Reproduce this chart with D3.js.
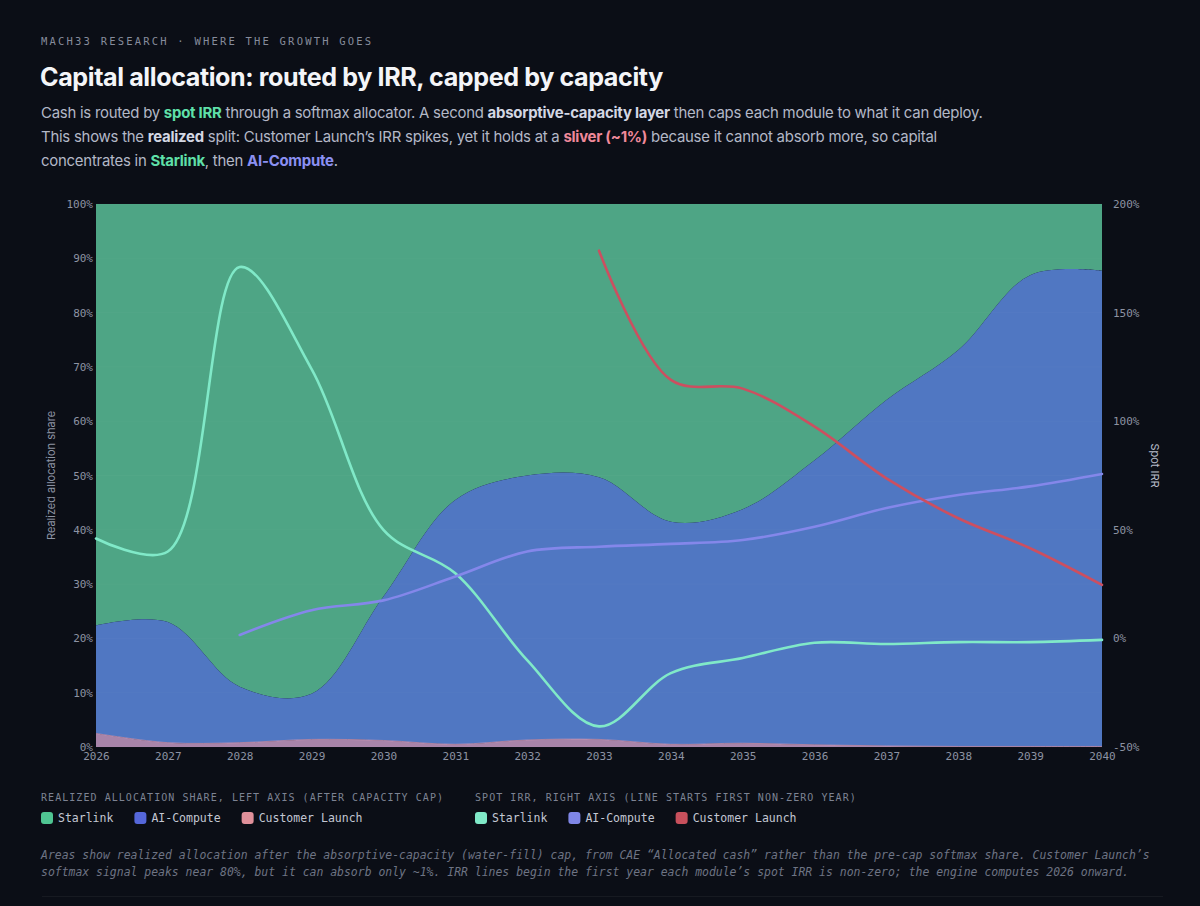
<!DOCTYPE html>
<html>
<head>
<meta charset="utf-8">
<script src="https://cdn.jsdelivr.net/npm/d3@7"></script>
<style>
  html, body { margin: 0; padding: 0; background: #0b0e16; }
  svg { display: block; }
</style>
</head>
<body>
<svg width="1200" height="906"></svg>
<script>
// --- data ---
const years = [2026, 2027, 2028, 2029, 2030, 2031, 2032, 2033, 2034, 2035, 2036, 2037, 2038, 2039, 2040]

// realized allocation share (%), stacked
const launchShare   = [2.5, 0.8, 0.8, 1.4, 1.2, 0.5, 1.3, 1.4, 0.5, 0.7, 0.4, 0.2, 0.1, 0.1, 0.1]
const computeShare  = [19.9, 22.2, 10.3, 8.4, 26.5, 45.0, 48.7, 48.3, 41.0, 43.1, 52.4, 63.7, 73.0, 86.8, 87.6]
const starlinkShare = [77.6, 77.0, 88.9, 90.2, 72.3, 54.5, 50.0, 50.3, 58.5, 56.2, 47.2, 36.1, 26.9, 13.1, 12.3]

// spot IRR (%), null = not started yet
const starlinkIrr = [46, 40, 171, 124, 50, 30, -10, -40.5, -16, -9, -2, -2.6, -1.7, -1.7, -0.7]
const computeIrr  = [null, null, 1.6, 13, 17.5, 28.5, 40, 42.2, 43.5, 45.3, 51.4, 60, 66, 70, 75.7]
const launchIrr   = [null, null, null, null, null, null, null, 178.5, 119, 115, 97.5, 73.7, 55.3, 41.5, 24.6]

const leftTicks  = [0, 10, 20, 30, 40, 50, 60, 70, 80, 90, 100]
const rightTicks = [-50, 0, 50, 100, 150, 200]

const svg = d3.select("svg")
const width = +svg.attr('width')
const mono = "'DejaVu Sans Mono', monospace"
const sans = "Inter, 'Noto Sans', sans-serif"

// ---- header ----
svg.append('text')
  .attr('x', 41).attr('y', 45)
  .attr('font-family', mono).attr('font-size', 10.5)
  .attr('letter-spacing', 2.2)
  .attr('fill', '#868c9c')
  .text('MACH33 RESEARCH · WHERE THE GROWTH GOES')

svg.append('text')
  .attr('x', 40).attr('y', 86)
  .attr('font-family', sans).attr('font-size', 25.1).attr('font-weight', 700)
  .attr('letter-spacing', -0.4)
  .attr('fill', '#f4f5f8')
  .text('Capital allocation: routed by IRR, capped by capacity')

const subLines = [
  [['Cash is routed by ', null], ['spot IRR', '#5fe0a9'], [' through a softmax allocator. A second ', null],
   ['absorptive-capacity layer', '#d3d7e3'], [' then caps each module to what it can deploy.', null]],
  [['This shows the ', null], ['realized', '#d3d7e3'], [' split: Customer Launch\u2019s IRR spikes, yet it holds at a ', null],
   ['sliver (~1%)', '#f0899a'], [' because it cannot absorb more, so capital', null]],
  [['concentrates in ', null], ['Starlink', '#5fe0a9'], [', then ', null], ['AI-Compute', '#8b90f2'], ['.', null]]
]
subLines.forEach((parts, i) => {
  const t = svg.append('text')
    .attr('x', 41).attr('y', 118 + i * 24)
    .attr('font-family', sans).attr('font-size', 14.95)
    .attr('letter-spacing', -0.25)
    .attr('fill', '#b3b8c7')
  parts.forEach(p => {
    t.append('tspan')
      .attr('fill', p[1] || null)
      .attr('font-weight', p[1] ? 700 : null)
      .text(p[0])
  })
})

// ---- chart ----
const margin = { top: 204, left: 96, right: 98, bottom: 159 }
const innerWidth = width - margin.left - margin.right
const innerHeight = 906 - margin.top - margin.bottom

const g = svg.append('g').attr('transform', `translate(${margin.left},${margin.top})`)

const xScale = d3.scaleLinear().domain([2026, 2040]).range([0, innerWidth])
const yScale = d3.scaleLinear().domain([0, 100]).range([innerHeight, 0])
const yIrr = d3.scaleLinear().domain([-50, 200]).range([innerHeight, 0])

const table = years.map((y, i) => ({
  year: y,
  launch: launchShare[i],
  compute: computeShare[i],
  starlink: starlinkShare[i]
}))

const stack = d3.stack().keys(['launch', 'compute', 'starlink'])
const series = stack(table)

const areaColors = { starlink: '#4ea585', compute: '#5077c2', launch: '#a884a9' }

const area = d3.area()
  .x(d => xScale(d.data.year))
  .y0(d => yScale(d[0]))
  .y1(d => yScale(d[1]))
  .curve(d3.curveCatmullRom)

// draw starlink first so the others sit over it
g.selectAll('path.area')
  .data(series.slice().reverse())
  .enter().append('path')
  .attr('class', 'area')
  .attr('d', area)
  .attr('fill', d => areaColors[d.key])

// thin top edge on the launch sliver
g.append('path')
  .datum(series[0])
  .attr('fill', 'none')
  .attr('stroke', '#d59ab6')
  .attr('stroke-opacity', 0.6)
  .attr('stroke-width', 1)
  .attr('d', d3.line().x(d => xScale(d.data.year)).y(d => yScale(d[1])).curve(d3.curveCatmullRom))

// faint grid
g.append('g')
  .selectAll('line')
  .data(leftTicks)
  .enter().append('line')
  .attr('x1', 0).attr('x2', innerWidth)
  .attr('y1', d => yScale(d)).attr('y2', d => yScale(d))
  .attr('stroke', '#ffffff').attr('stroke-opacity', 0.025)

// IRR lines
const irrSeries = [
  { values: starlinkIrr, color: '#80e9c8' },
  { values: computeIrr, color: '#8487ea' },
  { values: launchIrr, color: '#cc4f60' }
]
const line = d3.line()
  .defined(d => d.v != null)
  .x(d => xScale(d.year))
  .y(d => yIrr(d.v))
  .curve(d3.curveCatmullRom)

irrSeries.forEach(s => {
  const pts = years.map((y, i) => ({ year: y, v: s.values[i] })).filter(d => d.v != null)
  g.append('path')
    .datum(pts)
    .attr('fill', 'none')
    .attr('stroke', s.color)
    .attr('stroke-width', 2.6)
    .attr('stroke-linecap', 'round')
    .attr('d', line)
})

// axes
const tickColor = '#8d93a3'
const yAxisL = d3.axisLeft(yScale).tickValues(leftTicks).tickFormat(d => d + '%').tickSize(0).tickPadding(3)
const yAxisR = d3.axisRight(yIrr).tickValues(rightTicks).tickFormat(d => d + '%').tickSize(0).tickPadding(11)
const xAxis = d3.axisBottom(xScale).tickValues(years).tickFormat(d3.format('d')).tickSize(0).tickPadding(5)

const styleAxis = sel => {
  sel.select('.domain').remove()
  sel.selectAll('text').attr('font-family', mono).attr('font-size', 11).attr('fill', tickColor)
}

g.append('g').call(yAxisL).call(styleAxis)
g.append('g').attr('transform', `translate(${innerWidth},0)`).call(yAxisR).call(styleAxis)
g.append('g').attr('transform', `translate(0,${innerHeight})`).call(xAxis).call(styleAxis)

svg.append('text')
  .attr('transform', `translate(55,${margin.top + innerHeight / 2}) rotate(-90)`)
  .attr('text-anchor', 'middle')
  .attr('font-family', sans).attr('font-size', 11)
  .attr('fill', '#8d93a3')
  .text('Realized allocation share')

svg.append('text')
  .attr('transform', `translate(1151,${margin.top + innerHeight / 2 - 10}) rotate(90)`)
  .attr('text-anchor', 'middle')
  .attr('font-family', sans).attr('font-size', 11)
  .attr('fill', '#b6bbc9')
  .text('Spot IRR')

// ---- legends ----
const legendGroups = [
  { x: 41, title: 'REALIZED ALLOCATION SHARE, LEFT AXIS (AFTER CAPACITY CAP)',
    items: [['Starlink', '#4fc592'], ['AI-Compute', '#5567da'], ['Customer Launch', '#e0909a']] },
  { x: 475, title: 'SPOT IRR, RIGHT AXIS (LINE STARTS FIRST NON-ZERO YEAR)',
    items: [['Starlink', '#80e9c8'], ['AI-Compute', '#7f86e6'], ['Customer Launch', '#c8505c']] }
]
legendGroups.forEach(lg => {
  const lgG = svg.append('g').attr('transform', `translate(${lg.x},0)`)
  lgG.append('text')
    .attr('x', 0).attr('y', 801)
    .attr('font-family', mono).attr('font-size', 10)
    .attr('letter-spacing', 1.05)
    .attr('fill', '#7d8393')
    .text(lg.title)
  let cx = 0
  lg.items.forEach(it => {
    lgG.append('rect')
      .attr('x', cx).attr('y', 812)
      .attr('width', 12).attr('height', 12).attr('rx', 3)
      .attr('fill', it[1])
    const t = lgG.append('text')
      .attr('x', cx + 17).attr('y', 822)
      .attr('font-family', mono).attr('font-size', 11.5)
      .attr('fill', '#c3c7d3')
      .text(it[0])
    cx += 17 + t.node().getComputedTextLength() + 21
  })
})

// ---- footnote ----
const notes = [
  'Areas show realized allocation after the absorptive-capacity (water-fill) cap, from CAE \u201cAllocated cash\u201d rather than the pre-cap softmax share. Customer Launch\u2019s',
  'softmax signal peaks near 80%, but it can absorb only ~1%. IRR lines begin the first year each module\u2019s spot IRR is non-zero; the engine computes 2026 onward.'
]
notes.forEach((n, i) => {
  svg.append('text')
    .attr('x', 41).attr('y', 859 + i * 17)
    .attr('font-family', mono).attr('font-size', 11.45).attr('font-style', 'italic')
    .attr('fill', '#6e7484')
    .text(n)
})

svg.append('line')
  .attr('x1', 42).attr('x2', 1163).attr('y1', 896.5).attr('y2', 896.5)
  .attr('stroke', '#ffffff').attr('stroke-opacity', 0.05)
</script>
</body>
</html>
